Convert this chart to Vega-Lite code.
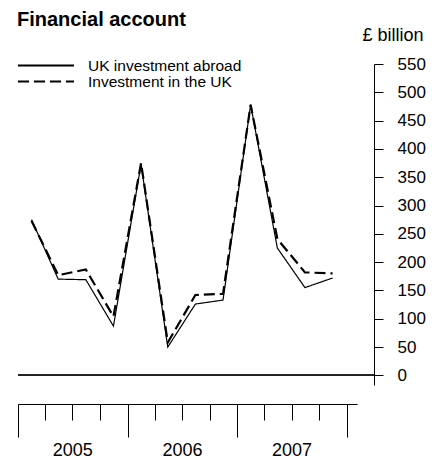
{
  "$schema": "https://vega.github.io/schema/vega-lite/v6.json",
  "padding": {"left": 17, "top": 10, "right": 0, "bottom": 0},
  "background": "white",
  "title": {"text": "Financial account", "anchor": "start", "fontSize": 20, "fontWeight": "bold", "font": "Liberation Sans", "color": "black", "offset": -4},
  "config": {
    "view": {"stroke": null},
    "font": "Liberation Sans",
    "axis": {"grid": false},
    "axisY": {
      "labelOverlap": false,
      "domainColor": "black", "domainWidth": 1,
      "tickColor": "black", "tickSize": 9, "tickWidth": 1,
      "labelFontSize": 17, "labelColor": "black", "labelPadding": 14, "labelFont": "Liberation Sans",
      "titleAngle": 0, "titleAlign": "left", "titleBaseline": "alphabetic",
      "titleX": -12, "titleY": -24, "titleFontSize": 18, "titleFontWeight": "normal", "titleColor": "black", "titleFont": "Liberation Sans"
    }
  },
  "spacing": 18,
  "vconcat": [
    {
      "width": 356,
      "height": 321,
      "data": {"values": [
        {"date": "2005-02-15", "series": "UK investment abroad", "value": 275},
        {"date": "2005-05-15", "series": "UK investment abroad", "value": 170},
        {"date": "2005-08-15", "series": "UK investment abroad", "value": 169},
        {"date": "2005-11-15", "series": "UK investment abroad", "value": 87},
        {"date": "2006-02-15", "series": "UK investment abroad", "value": 373},
        {"date": "2006-05-15", "series": "UK investment abroad", "value": 50},
        {"date": "2006-08-15", "series": "UK investment abroad", "value": 126},
        {"date": "2006-11-15", "series": "UK investment abroad", "value": 133},
        {"date": "2007-02-15", "series": "UK investment abroad", "value": 478},
        {"date": "2007-05-15", "series": "UK investment abroad", "value": 225},
        {"date": "2007-08-15", "series": "UK investment abroad", "value": 155},
        {"date": "2007-11-15", "series": "UK investment abroad", "value": 172},
        {"date": "2005-02-15", "series": "Investment in the UK", "value": 273},
        {"date": "2005-05-15", "series": "Investment in the UK", "value": 177},
        {"date": "2005-08-15", "series": "Investment in the UK", "value": 187},
        {"date": "2005-11-15", "series": "Investment in the UK", "value": 104},
        {"date": "2006-02-15", "series": "Investment in the UK", "value": 375},
        {"date": "2006-05-15", "series": "Investment in the UK", "value": 58},
        {"date": "2006-08-15", "series": "Investment in the UK", "value": 142},
        {"date": "2006-11-15", "series": "Investment in the UK", "value": 144},
        {"date": "2007-02-15", "series": "Investment in the UK", "value": 478},
        {"date": "2007-05-15", "series": "Investment in the UK", "value": 241},
        {"date": "2007-08-15", "series": "Investment in the UK", "value": 182},
        {"date": "2007-11-15", "series": "Investment in the UK", "value": 180}
      ]},
      "layer": [
        {
          "mark": {"type": "rule", "color": "#222222", "strokeWidth": 1},
          "encoding": {
            "y": {
              "datum": 0, "type": "quantitative",
              "scale": {"domain": [-17, 550], "nice": false, "zero": false},
              "axis": {"orient": "right", "title": "£ billion", "values": [0, 50, 100, 150, 200, 250, 300, 350, 400, 450, 500, 550]}
            }
          }
        },
        {
          "transform": [{"filter": "datum.series === 'UK investment abroad'"}],
          "mark": {"type": "line", "color": "black", "strokeWidth": 1.2},
          "encoding": {
            "x": {"field": "date", "type": "temporal", "scale": {"type": "utc", "domain": [{"year": 2005, "month": 1, "date": 1, "utc": true}, {"year": 2008, "month": 4, "date": 1, "utc": true}]}, "axis": null},
            "y": {"field": "value", "type": "quantitative", "axis": {"orient": "right", "title": "£ billion", "values": [0, 50, 100, 150, 200, 250, 300, 350, 400, 450, 500, 550]}},
            "strokeDash": {"field": "series", "type": "nominal"}
          }
        },
        {
          "transform": [{"filter": "datum.series === 'Investment in the UK'"}],
          "mark": {"type": "line", "color": "black", "strokeWidth": 2.2},
          "encoding": {
            "x": {"field": "date", "type": "temporal", "scale": {"type": "utc", "domain": [{"year": 2005, "month": 1, "date": 1, "utc": true}, {"year": 2008, "month": 4, "date": 1, "utc": true}]}, "axis": null},
            "y": {"field": "value", "type": "quantitative", "axis": {"orient": "right", "title": "£ billion", "values": [0, 50, 100, 150, 200, 250, 300, 350, 400, 450, 500, 550]}},
            "strokeDash": {
              "field": "series", "type": "nominal",
              "scale": {"domain": ["UK investment abroad", "Investment in the UK"], "range": [[1, 0], [11, 5]]},
              "legend": {
                "title": null, "orient": "none", "legendX": -1, "legendY": -6,
                "symbolType": "stroke", "symbolSize": 3136, "symbolStrokeWidth": 2, "symbolStrokeColor": "black",
                "clipHeight": 15, "rowPadding": 0,
                "labelFontSize": 15.5, "labelColor": "black", "labelFont": "Liberation Sans", "labelOffset": 13,
                "encode": {"symbols": {"update": {"strokeDash": {"signal": "datum.value === 'Investment in the UK' ? [12, 10] : [1, 0]"}}}}
              }
            }
          }
        }
      ]
    },
    {
      "width": 339,
      "height": 1,
      "data": {"values": [{"date": "2005-01-01"}]},
      "mark": {"type": "point", "opacity": 0, "size": 0},
      "encoding": {
        "x": {
          "field": "date", "type": "temporal",
          "scale": {"type": "utc", "domain": [{"year": 2005, "month": 1, "date": 1, "utc": true}, {"year": 2008, "month": 2, "date": 4, "utc": true}]},
          "axis": {
            "orient": "bottom", "title": null,
            "values": [
              {"year": 2005, "month": 1, "date": 1, "utc": true}, {"year": 2005, "month": 4, "date": 1, "utc": true},
              {"year": 2005, "month": 7, "date": 1, "utc": true}, {"year": 2005, "month": 10, "date": 1, "utc": true},
              {"year": 2006, "month": 1, "date": 1, "utc": true}, {"year": 2006, "month": 4, "date": 1, "utc": true},
              {"year": 2006, "month": 7, "date": 1, "utc": true}, {"year": 2006, "month": 10, "date": 1, "utc": true},
              {"year": 2007, "month": 1, "date": 1, "utc": true}, {"year": 2007, "month": 4, "date": 1, "utc": true},
              {"year": 2007, "month": 7, "date": 1, "utc": true}, {"year": 2007, "month": 10, "date": 1, "utc": true},
              {"year": 2008, "month": 1, "date": 1, "utc": true}
            ],
            "domainColor": "black", "domainWidth": 1,
            "tickColor": "black", "tickWidth": 1,
            "tickSize": {"condition": {"test": "utcmonth(datum.value) === 0", "value": 33}, "value": 16},
            "labelExpr": "utcmonth(datum.value) === 6 ? utcFormat(datum.value, '%Y') : ''",
            "labelFontSize": 18, "labelColor": "black", "labelFont": "Liberation Sans",
            "labelPadding": 21, "labelOverlap": false, "labelFlush": false, "labelBaseline": "top"
          }
        }
      }
    }
  ]
}
